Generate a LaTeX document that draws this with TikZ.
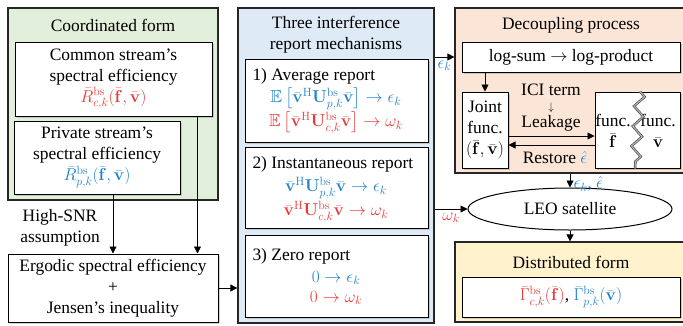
\documentclass[tikz,border=0pt]{standalone}
\usepackage{amsmath,amssymb}
\usepackage[no-math]{fontspec}
\setmainfont{Liberation Serif}
\usetikzlibrary{arrows.meta,shapes.geometric,shadows,decorations.pathmorphing}

\definecolor{greenfill}{HTML}{E2EFDA}
\definecolor{bluefill}{HTML}{DEEBF7}
\definecolor{orangefill}{HTML}{FBE5D6}
\definecolor{yellowfill}{HTML}{FFF2CC}
\definecolor{tblue}{RGB}{30,130,205}
\definecolor{tred}{RGB}{235,55,55}

\newcommand{\barf}{\bar{\mathbf{f}}}
\newcommand{\barv}{\bar{\mathbf{v}}}

\tikzset{
	panel/.style={draw=black!85, line width=1.2bp, inner sep=0pt},
	box/.style={draw=black, line width=1bp, fill=white, align=center, inner sep=0pt,
		drop shadow={shadow xshift=1.5bp, shadow yshift=-1.5bp, opacity=0.35}},
	arr/.style={line width=0.8bp, -{Triangle[length=7bp,width=7bp]}},
	crack/.style={decorate, decoration={zigzag, segment length=20bp, amplitude=5bp},
		draw=black!75, double=black!30, double distance=1.2bp, line width=0.6bp},
}

\begin{document}
\begin{tikzpicture}[font=\fontsize{17.5}{21}\selectfont]
	\def \hor{ 1bp }
	\def \ver{ 1bp }
	\useasboundingbox (0,0) rectangle (683*\hor,-325*\ver);

	\node[panel, fill=greenfill, minimum width=210*\hor, minimum height=192*\ver] (coord) at (113*\hor,-104*\ver) {};
	\node (coordt) at (113*\hor,-25*\ver) {Coordinated form};
	\node[box, minimum width=197*\hor, minimum height=74*\ver] (common) at (113.5*\hor,-79*\ver) {Common stream's\\spectral efficiency\\\textcolor{tred}{$\bar{R}^{\mathrm{bs}}_{c,k}(\barf,\barv)$}};
	\node[box, minimum width=166*\hor, minimum height=73*\ver] (private) at (97*\hor,-157.5*\ver) {Private stream's\\spectral efficiency\\\textcolor{tblue}{$\bar{R}^{\mathrm{bs}}_{p,k}(\barf,\barv)$}};
	\node[align=center] (snr) at (60*\hor,-228*\ver) {High-SNR\\assumption};
	\node[box, minimum width=210*\hor, minimum height=68*\ver] (ergodic) at (113*\hor,-288*\ver) {Ergodic spectral efficiency\\+\\Jensen's inequality};

	\node[panel, fill=bluefill, minimum width=196*\hor, minimum height=315*\ver] (report) at (336*\hor,-165.5*\ver) {};
	\node[align=center] (reportt) at (336*\hor,-35*\ver) {Three interference\\report mechanisms};
	\node[box, minimum width=183*\hor, minimum height=83*\ver] (avg) at (336.5*\hor,-100.5*\ver) {};
	\node[anchor=west] (avgt) at (249*\hor,-76*\ver) {1) Average report};
	\node[tblue] (avgp) at (336*\hor,-99*\ver) {$\mathbb{E}\left[\barv^{\mathrm{H}}\mathbf{U}^{\mathrm{bs}}_{p,k}\barv\right]\rightarrow\epsilon_k$};
	\node[tred] (avgc) at (336*\hor,-123*\ver) {$\mathbb{E}\left[\barv^{\mathrm{H}}\mathbf{U}^{\mathrm{bs}}_{c,k}\barv\right]\rightarrow\omega_k$};
	\node[box, minimum width=183*\hor, minimum height=81*\ver] (inst) at (336.5*\hor,-187.5*\ver) {};
	\node[anchor=west] (instt) at (249*\hor,-164*\ver) {2) Instantaneous report};
	\node[tblue] (instp) at (336*\hor,-188*\ver) {$\barv^{\mathrm{H}}\mathbf{U}^{\mathrm{bs}}_{p,k}\barv\rightarrow\epsilon_k$};
	\node[tred] (instc) at (336*\hor,-212*\ver) {$\barv^{\mathrm{H}}\mathbf{U}^{\mathrm{bs}}_{c,k}\barv\rightarrow\omega_k$};
	\node[box, minimum width=183*\hor, minimum height=82*\ver] (zero) at (336.5*\hor,-276*\ver) {};
	\node[anchor=west] (zerot) at (249*\hor,-256*\ver) {3) Zero report};
	\node[tblue] (zerop) at (336*\hor,-278*\ver) {$0\rightarrow\epsilon_k$};
	\node[tred] (zeroc) at (336*\hor,-298*\ver) {$0\rightarrow\omega_k$};

	\node[panel, fill=orangefill, minimum width=232*\hor, minimum height=165*\ver] (decoup) at (571*\hor,-90.5*\ver) {};
	\node (decoupt) at (571*\hor,-25*\ver) {Decoupling process};
	\node[box, minimum width=218*\hor, minimum height=30*\ver] (logbox) at (571*\hor,-57*\ver) {log-sum $\rightarrow$ log-product};
	\node[box, minimum width=46*\hor, minimum height=76*\ver] (joint) at (485*\hor,-130*\ver) {Joint\\func.\\$(\barf,\barv)$};
	\node[box, minimum width=85*\hor, minimum height=76*\ver] (funcs) at (637.5*\hor,-130*\ver) {};
	\node[align=center] (funcf) at (613*\hor,-131*\ver) {func.\\$\barf$};
	\node[align=center] (funcv) at (658*\hor,-131*\ver) {func.\\$\barv$};
	\draw[crack] ([xshift=2.5*\hor]funcs.north) -- ([xshift=-2.5*\hor]funcs.south);
	\node (ici) at (551*\hor,-90*\ver) {ICI term};
	\node[font=\fontsize{11}{13}\selectfont] (icidown) at (551*\hor,-108*\ver) {$\downarrow$};
	\node (leak) at (551*\hor,-123*\ver) {Leakage};
	\node (restore) at (555*\hor,-158*\ver) {Restore \textcolor{tblue}{$\hat{\epsilon}$}};

	\node[draw, ellipse, line width=1bp, fill=white, minimum width=204*\hor, minimum height=42*\ver, inner sep=0pt] (leo) at (570*\hor,-209*\ver) {LEO satellite};

	\node[panel, fill=yellowfill, minimum width=232*\hor, minimum height=80*\ver] (dist) at (571*\hor,-282*\ver) {};
	\node (distt) at (571*\hor,-262*\ver) {Distributed form};
	\node[box, minimum width=218*\hor, minimum height=40*\ver] (distbox) at (571*\hor,-297*\ver) {\textcolor{tred}{$\bar{\Gamma}^{\mathrm{bs}}_{c,k}(\barf)$}, \textcolor{tblue}{$\bar{\Gamma}^{\mathrm{bs}}_{p,k}(\barv)$}};

	\draw[arr] (private.south -| ergodic.north) -- (ergodic.north);
	\draw[arr] ([xshift=-15*\hor]common.south east) -- ([xshift=-15*\hor]common.south east |- ergodic.north);
	\draw[arr] (ergodic.east) -- (ergodic.east -| report.west);
	\draw[arr] (logbox.west -| report.east) -- node[below, tblue] (epsk) {$\epsilon_k$} (logbox.west -| decoup.west);
	\draw[arr] (logbox.south -| joint.north) -- (joint.north);
	\draw[arr] ([yshift=-6*\ver]joint.east) -- ([yshift=-6*\ver]joint.east -| funcs.west);
	\draw[arr] ([yshift=-15*\ver]funcs.west) -- ([yshift=-15*\ver]funcs.west -| joint.east);
	\draw[arr] (decoup.south -| leo.north) -- node[right, tblue, pos=0.75] (epshat) {$\epsilon_k$, $\hat{\epsilon}$} (leo.north);
	\draw[arr] (leo.west -| report.east) -- node[below, tred] (omegak) {$\omega_k$} (leo.west);
	\draw[arr] (leo.south) -- (leo.south |- dist.north);
\end{tikzpicture}
\end{document}
